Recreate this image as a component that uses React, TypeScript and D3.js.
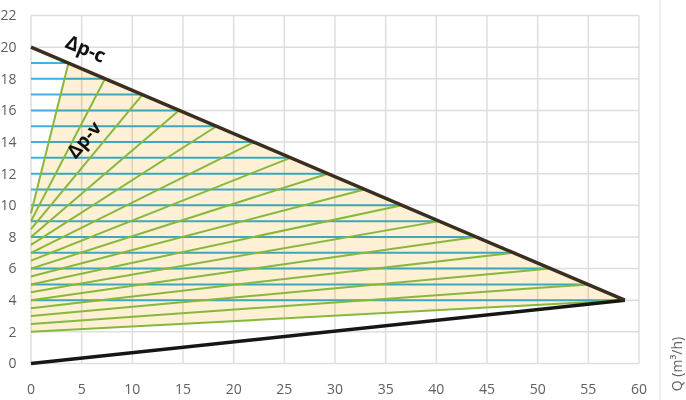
import React from "react";
import * as d3 from "d3";

const W = 686;
const H = 400;

const xTicks = [0, 5, 10, 15, 20, 25, 30, 35, 40, 45, 50, 55, 60];
const yTicks = [0, 2, 4, 6, 8, 10, 12, 14, 16, 18, 20, 22];

// Δp-c (constant) upper limit line and lower limit line
const topLine: [number, number][] = [[0, 20], [58.6, 4]];
const bottomLine: [number, number][] = [[0, 0], [58.6, 4]];

// Horizontal (blue) levels and their end Q on the upper line
const blueLevels = [4, 5, 6, 7, 8, 9, 10, 11, 12, 13, 14, 15, 16, 17, 18, 19];
const blueEndQ = [58.6, 55.0, 51.2, 47.6, 43.9, 40.3, 36.6, 32.9, 29.3, 25.6, 22.0, 18.3, 14.6, 11.0, 7.3, 3.7];

// Δp-v (green) lines: start head at Q=0, ending on the blue line ends
const greenStartH = [2, 2.5, 3, 3.5, 4, 4.5, 5, 5.5, 6, 6.5, 7, 7.5, 8, 8.5, 9, 9.5];

export default function App() {
  const x = d3.scaleLinear().domain([0, 60]).range([31, 639]);
  const y = d3.scaleLinear().domain([0, 22]).range([363.5, 15.5]);
  const line = d3.line<[number, number]>().x((d) => x(d[0])).y((d) => y(d[1]));

  const last = greenStartH.length - 1;
  const fillPts: [number, number][] = [
    [0, greenStartH[0]],
    [blueEndQ[0], blueLevels[0]],
    [blueEndQ[last], blueLevels[last]],
    [0, greenStartH[last]],
  ];

  const tickColor = "#5f5f5f";
  const font = "'Open Sans', 'Liberation Sans', sans-serif";

  return (
    <svg
      width={W}
      height={H}
      style={{ position: "absolute", left: 0, top: 0, background: "#fff" }}
      fontFamily={font}
    >
      {/* grid */}
      <g stroke="#dedede" strokeWidth={1.5}>
        {xTicks.map((t) => (
          <line key={"gx" + t} x1={x(t)} x2={x(t)} y1={y(22)} y2={y(0)} />
        ))}
        {yTicks.map((t) => (
          <line key={"gy" + t} x1={x(0)} x2={x(60)} y1={y(t)} y2={y(t)} />
        ))}
      </g>
      {/* right separator */}
      <line x1={660} x2={660} y1={0} y2={H} stroke="#ebebeb" strokeWidth={1.5} />

      {/* blue constant-head lines */}
      <g stroke="#3fb2e2" strokeWidth={2}>
        {blueLevels.map((lv, i) => (
          <line key={"b" + lv} x1={x(0)} x2={x(blueEndQ[i])} y1={y(lv)} y2={y(lv)} />
        ))}
      </g>

      {/* fill region (multiply blend) */}
      <path
        d={line(fillPts) + "Z"}
        fill="#fdf0d4"
        style={{ mixBlendMode: "multiply" }}
      />

      {/* green proportional lines */}
      <g stroke="#86b83c" strokeWidth={2}>
        {greenStartH.map((s, i) => (
          <path
            key={"g" + i}
            d={line([[0, s], [blueEndQ[i], blueLevels[i]]]) || ""}
            fill="none"
          />
        ))}
      </g>

      {/* limit lines */}
      <path d={line(bottomLine) || ""} stroke="#161616" strokeWidth={3.5} fill="none" />
      <path d={line(topLine) || ""} stroke="#3b2e1e" strokeWidth={3.5} fill="none" />

      {/* y tick labels */}
      <g fill={tickColor} fontSize={14} textAnchor="end">
        {yTicks.map((t) => (
          <text key={"yl" + t} x={16.5} y={y(t)} dy="0.35em">
            {t}
          </text>
        ))}
      </g>
      {/* x tick labels */}
      <g fill={tickColor} fontSize={14} textAnchor="middle">
        {xTicks.map((t) => (
          <text key={"xl" + t} x={x(t)} y={394}>
            {t}
          </text>
        ))}
      </g>

      {/* axis title */}
      <text
        transform="translate(682,364) rotate(-90)"
        textAnchor="middle"
        fill={tickColor}
        fontSize={14}
      >
        Q (m³/h)
      </text>

      {/* annotations */}
      <text
        transform="translate(83,55) rotate(23)"
        textAnchor="middle"
        fontWeight="bold"
        fontSize={19.5}
        fill="#111"
      >
        Δp-c
      </text>
      <text
        transform="translate(89,144) rotate(-50)"
        textAnchor="middle"
        fontWeight="bold"
        fontSize={19}
        fill="#111"
      >
        Δp-v
      </text>
    </svg>
  );
}
